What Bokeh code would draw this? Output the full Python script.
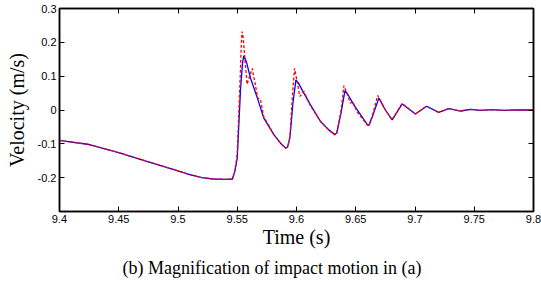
from bokeh.plotting import figure
from bokeh.models import LinearAxis, FixedTicker, Title, Range1d
from bokeh.embed import file_html
from bokeh.resources import INLINE

# ---- data ----
t_blue = [9.400, 9.425, 9.450, 9.475, 9.500, 9.510, 9.520, 9.530, 9.540, 9.546,
          9.548, 9.550, 9.5528, 9.5545, 9.5555, 9.5575, 9.5612, 9.5670, 9.5724, 9.5809,
          9.5870, 9.5907, 9.5925, 9.5945, 9.5970, 9.5995, 9.6015, 9.6062, 9.6118, 9.6203,
          9.6270, 9.6320, 9.6340, 9.6375, 9.6409, 9.6430, 9.6484, 9.654, 9.6595, 9.661,
          9.6640, 9.6695, 9.675, 9.6807, 9.6892, 9.7004, 9.7097, 9.720, 9.7285, 9.7384,
          9.7468, 9.755, 9.765, 9.775, 9.785, 9.800]
v_blue = [-0.090, -0.102, -0.126, -0.153, -0.180, -0.191, -0.200, -0.204, -0.205, -0.204,
          -0.180, -0.142, 0.064, 0.140, 0.160, 0.145, 0.094, 0.035, -0.024, -0.073,
          -0.100, -0.112, -0.110, -0.080, 0.020, 0.089, 0.080, 0.050, 0.015, -0.034,
          -0.058, -0.072, -0.068, -0.010, 0.057, 0.048, 0.015, -0.014, -0.042, -0.046,
          -0.020, 0.035, 0.000, -0.029, 0.018, -0.012, 0.011, -0.007, 0.004, -0.003,
          0.002, -0.001, 0.001, -0.001, 0.000, 0.000]

t_red = [9.400, 9.425, 9.450, 9.475, 9.500, 9.510, 9.520, 9.530, 9.540, 9.546,
         9.548, 9.550, 9.5525, 9.5535, 9.5541, 9.5550, 9.5562, 9.5583, 9.5605, 9.5626,
         9.5650, 9.5673, 9.5695, 9.5724, 9.5809, 9.5870, 9.5907, 9.5925, 9.5945, 9.5965,
         9.5983, 9.6005, 9.6028, 9.6062, 9.6118, 9.6203, 9.6270, 9.6320, 9.6340, 9.6375,
         9.6400, 9.6430, 9.6455, 9.6475, 9.651, 9.6595, 9.661, 9.6640, 9.6685, 9.672,
         9.675, 9.6807, 9.6892, 9.7004, 9.7097, 9.720, 9.7285, 9.7384, 9.7468, 9.755,
         9.765, 9.775, 9.785, 9.800]
v_red = [-0.090, -0.102, -0.126, -0.153, -0.180, -0.191, -0.200, -0.204, -0.205, -0.204,
         -0.180, -0.130, 0.100, 0.200, 0.232, 0.215, 0.160, 0.076, 0.100, 0.123,
         0.080, 0.035, 0.032, -0.020, -0.073, -0.100, -0.113, -0.110, -0.080, 0.040,
         0.123, 0.085, 0.040, 0.055, 0.012, -0.034, -0.058, -0.074, -0.068, -0.005,
         0.072, 0.045, 0.020, 0.025, -0.005, -0.043, -0.048, -0.018, 0.043, 0.020,
         0.000, -0.029, 0.019, -0.012, 0.011, -0.007, 0.004, -0.003, 0.002, -0.001,
         0.001, -0.001, 0.000, 0.000]

x_ticks = [9.4, 9.45, 9.5, 9.55, 9.6, 9.65, 9.7, 9.75, 9.8]
x_labels = ["9.4", "9.45", "9.5", "9.55", "9.6", "9.65", "9.7", "9.75", "9.8"]
y_ticks = [-0.2, -0.1, 0.0, 0.1, 0.2, 0.3]
y_labels = ["-0.2", "-0.1", "0", "0.1", "0.2", "0.3"]

x_title = "Time (s)"
y_title = "Velocity (m/s)"
caption = "(b) Magnification of impact motion in (a)"

p = figure(width=541, height=282, output_backend="svg", toolbar_location=None,
           x_range=Range1d(9.4, 9.8), y_range=Range1d(-0.3, 0.3),
           min_border_left=59, min_border_right=8, min_border_top=8, min_border_bottom=10,
           background_fill_color="white", border_fill_color="white")
p.grid.visible = False
p.outline_line_color = "black"
p.outline_line_width = 1.5

p.line(t_blue, v_blue, line_color="#0000ff", line_width=1.3)
p.line(t_red, v_red, line_color="#ff0000", line_width=1.3, line_dash="3 2")

def style_axis(ax, ticks, labels, show_labels):
    ax.ticker = FixedTicker(ticks=ticks)
    ax.major_label_overrides = {tk: lb for tk, lb in zip(ticks, labels)}
    ax.major_tick_in = 5
    ax.major_tick_out = 0
    ax.minor_tick_line_color = None
    ax.axis_line_color = "black"
    ax.axis_line_width = 1.5
    ax.major_tick_line_color = "black"
    ax.major_tick_line_width = 1
    ax.major_label_text_font = "Liberation Sans"
    ax.major_label_text_font_size = "11px" if show_labels else "0px"
    ax.major_label_text_color = "black"
    ax.major_label_standoff = 3 if show_labels else 0

xa = p.xaxis[0]
ya = p.yaxis[0]
style_axis(xa, x_ticks, x_labels, True)
style_axis(ya, y_ticks, y_labels, True)
xa.axis_label = x_title
ya.axis_label = y_title
for ax in (xa, ya):
    ax.axis_label_text_font = "Liberation Serif"
    ax.axis_label_text_font_size = "20px"
    ax.axis_label_text_font_style = "normal"
    ax.axis_label_text_color = "black"
xa.axis_label_standoff = 0
ya.axis_label_standoff = 7

top = LinearAxis()
style_axis(top, x_ticks, [""] * len(x_ticks), False)
p.add_layout(top, "above")
right = LinearAxis()
style_axis(right, y_ticks, [""] * len(y_ticks), False)
p.add_layout(right, "right")

cap = Title(text=caption, align="left", offset=63, text_font="Liberation Serif",
            text_font_size="18px", text_font_style="normal", text_color="black")
p.add_layout(cap, "below")

open("out.html", "w").write(file_html(p, INLINE))
